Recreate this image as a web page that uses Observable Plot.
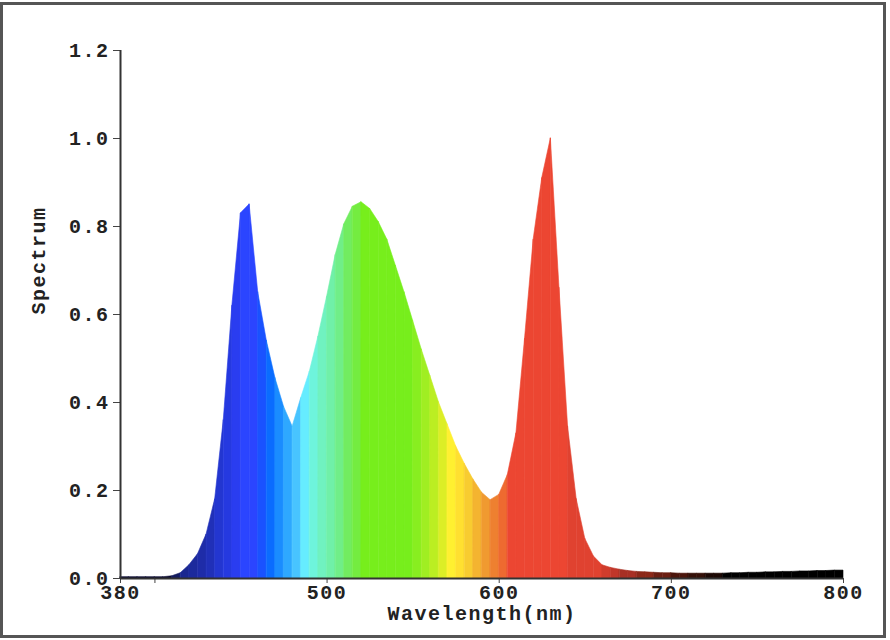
<!DOCTYPE html>
<html>
<head>
<meta charset="utf-8">
<script src="https://cdn.jsdelivr.net/npm/d3@7"></script>
<script src="https://cdn.jsdelivr.net/npm/@observablehq/plot@0.6"></script>
<style>
  html, body { margin: 0; padding: 0; background: #fff; }
  #wrap { position: relative; width: 890px; height: 640px; }
  #frame { position: absolute; left: 0px; top: 2px; width: 880px; height: 630px; border: 3px solid #555; pointer-events: none; }
  #chart { position: absolute; left: 0; top: 0; }
</style>
</head>
<body>
<div id="wrap"><div id="chart"></div><div id="frame"></div></div>
<script>
// Wavelength samples (nm) and relative spectrum values
const wavelengths = [380,385,390,395,400,405,410,415,420,425,430,435,440,445,450,455,460,465,470,475,
  480,485,490,495,500,505,510,515,520,525,530,535,540,545,550,555,560,565,570,575,
  580,585,590,595,600,605,610,615,620,625,630,635,640,645,650,655,660,665,670,675,
  680,685,690,695,700,705,710,715,720,725,730,735,740,745,750,755,760,765,770,775,
  780,785,790,795,800];
const spectrum = [0.003,0.003,0.003,0.003,0.003,0.003,0.005,0.012,0.03,0.055,0.10,0.18,0.36,0.62,0.83,0.85,0.65,0.54,0.455,0.39,
  0.345,0.41,0.47,0.55,0.64,0.735,0.805,0.845,0.855,0.84,0.81,0.77,0.71,0.65,0.585,0.52,0.46,0.40,0.35,0.30,
  0.26,0.225,0.195,0.178,0.19,0.235,0.33,0.545,0.77,0.91,1.0,0.66,0.345,0.18,0.09,0.05,0.03,0.024,0.02,0.017,
  0.015,0.014,0.013,0.012,0.012,0.011,0.011,0.011,0.011,0.011,0.011,0.012,0.012,0.013,0.013,0.014,0.014,0.015,0.015,0.016,
  0.016,0.017,0.017,0.018,0.018];

// Axis ticks
const xTicks = [380, 400, 500, 600, 700, 800];
const xTickLabels = ["380", "", "500", "600", "700", "800"];
const yTicks = [0, 0.2, 0.4, 0.6, 0.8, 1.0, 1.2];

// Colour bands: band starting wavelength -> colour
const bandStarts = [380,410,415,420,425,430,435,440,445,450,460,465,470,475,480,485,490,495,500,505,510,515,520,
  550,555,560,565,570,575,580,585,590,595,600,605,640,660,665,670,680,690,700,710,720,730];
const bandColors = ["#0a0a30","#141c60","#1a2790","#1c2a9c","#1e2ca8","#2030b8","#2336d0","#2539e0","#2a3df0","#2b45ff",
  "#1a52ff","#0a6cff","#1a8cff","#2ea8ff","#48c4ff","#66ecff","#6ef4dc","#70f2c0","#70f0a8","#70ee88","#72ec60","#74ec40","#77ee1c",
  "#88ee20","#a0ee22","#bbee22","#dcee26","#fff030","#ffe030","#f8cc30","#f4b430","#f09a30","#ee8030","#ee6a30","#ec4632",
  "#e04230","#d03c2c","#c0362a","#a83024","#8c2818","#6c1e12","#4c160c","#341008","#1c0804","#000000"];

// build 2-point segments, each filled with the colour of its band
const segs = [];
for (let i = 0; i < wavelengths.length - 1; i++) {
  segs.push({seg: i, x: wavelengths[i], y: spectrum[i], band: wavelengths[i]});
  segs.push({seg: i, x: wavelengths[i + 1], y: spectrum[i + 1], band: wavelengths[i]});
}

const font = "Liberation Mono, DejaVu Sans Mono, monospace";
const fs = 20;

const plot = Plot.plot({
  width: 890,
  height: 640,
  marginLeft: 120,
  marginRight: 47,
  marginTop: 50,
  marginBottom: 62,
  style: {fontFamily: font, fontWeight: "bold", fontSize: fs + "px", letterSpacing: "1.5px", background: "transparent", color: "#222"},
  x: {domain: [380, 800]},
  y: {domain: [0, 1.2]},
  color: {type: "threshold", domain: bandStarts.slice(1), range: bandColors},
  marks: [
    Plot.areaY(segs, {x: "x", y1: 0, y2: "y", z: "seg", fill: "band", stroke: "band", strokeWidth: 0.6}),
    Plot.axisY({ticks: yTicks, tickFormat: d3.format(".1f"), tickSize: 7, tickPadding: 4, fontSize: fs, fontWeight: "bold", label: null, stroke: "#444"}),
    Plot.axisX({ticks: xTicks, tickFormat: (d) => xTickLabels[xTicks.indexOf(d)], tickSize: 5, tickPadding: 1, fontSize: fs, fontWeight: "bold", label: null, stroke: "#444"}),
    Plot.ruleX([380], {stroke: "#333", strokeWidth: 2}),
    Plot.ruleY([0], {stroke: "#333", strokeWidth: 2}),
    Plot.text(["Wavelength(nm)"], {frameAnchor: "bottom", dy: 41, fontSize: fs, fontWeight: "bold", fill: "#222"}),
    Plot.text(["Spectrum"], {frameAnchor: "left", dx: -82, rotate: -90, fontSize: fs, fontWeight: "bold", fill: "#222"})
  ]
});
document.getElementById("chart").appendChild(plot);
</script>
</body>
</html>
